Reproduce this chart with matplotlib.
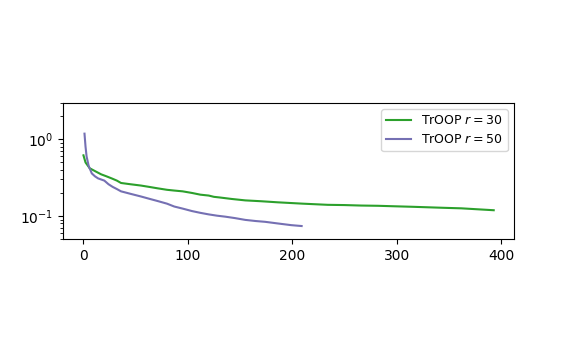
import matplotlib
matplotlib.use("Agg")
import matplotlib.pyplot as plt
from matplotlib.ticker import MultipleLocator

# TrOOP r = 30
x30 = [0, 2, 6, 12, 17, 22, 27, 32, 36, 45, 55, 63, 71, 80, 87, 95, 104, 112, 120, 125, 130, 142, 155,
       170, 186, 210, 234, 250, 266, 282, 298, 315, 330, 345, 362, 375, 393]
y30 = [0.62, 0.50, 0.42, 0.38, 0.35, 0.33, 0.31, 0.29, 0.27, 0.26, 0.25, 0.24, 0.23, 0.22, 0.215, 0.21, 0.20,
       0.19, 0.185, 0.178, 0.175, 0.167, 0.16, 0.156, 0.151, 0.145, 0.14, 0.139, 0.137, 0.136, 0.134, 0.132,
       0.13, 0.128, 0.126, 0.123, 0.119]

# TrOOP r = 50
x50 = [1, 2, 3, 5, 8, 11, 14, 20, 24, 28, 32, 36, 45, 55, 63, 71, 80, 87, 95, 104, 112, 120, 128, 136,
       145, 155, 165, 174, 186, 199, 209]
y50 = [1.19, 0.80, 0.60, 0.45, 0.36, 0.33, 0.31, 0.29, 0.26, 0.24, 0.225, 0.21, 0.195, 0.18, 0.168, 0.157,
       0.145, 0.133, 0.125, 0.116, 0.11, 0.105, 0.101, 0.098, 0.094, 0.089, 0.086, 0.084, 0.08, 0.076, 0.074]

fig = plt.figure(figsize=(5.62, 3.43), dpi=100)
ax = fig.add_axes([0.112, 0.303, 0.803, 0.397])
ax.plot(x30, y30, color="#2ca02c", linewidth=1.5, label="TrOOP $r=30$")
ax.plot(x50, y50, color="#7570b3", linewidth=1.5, label="TrOOP $r=50$")
ax.set_yscale("log")
ax.set_ylim(0.05, 3.0)
ax.xaxis.set_major_locator(MultipleLocator(100))
ax.legend(loc="upper right", fontsize=9)

fig.savefig("out.png", dpi=100)
